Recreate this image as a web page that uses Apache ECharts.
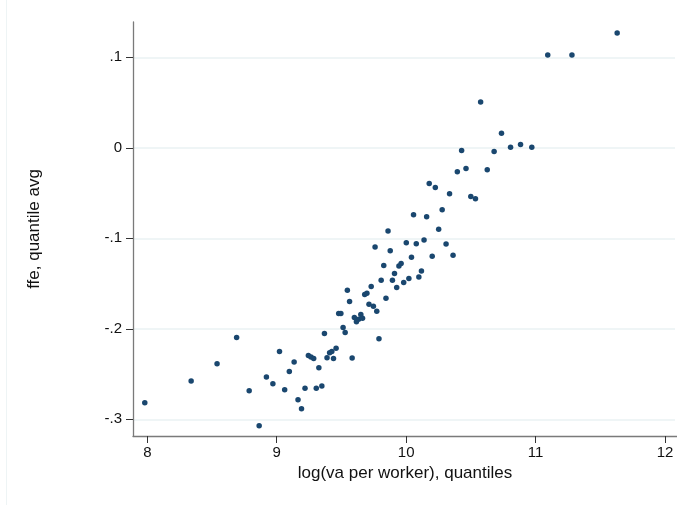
<!DOCTYPE html>
<html>
<head>
<meta charset="utf-8">
<script src="https://cdn.jsdelivr.net/npm/echarts@6/dist/echarts.min.js"></script>
<style>html,body{margin:0;padding:0;background:#fff}#c{width:677px;height:505px}</style>
</head>
<body>
<div id="c"></div>
<script>
var xValues = [7.983,8.341,8.541,8.692,8.789,8.866,8.922,8.972,9.023,9.063,9.099,9.136,9.166,9.193,9.220,9.246,9.266,9.287,9.307,9.327,9.350,9.370,9.390,9.410,9.427,9.440,9.460,9.480,9.497,9.514,9.530,9.547,9.564,9.584,9.601,9.617,9.634,9.651,9.664,9.681,9.698,9.714,9.731,9.748,9.761,9.774,9.791,9.808,9.828,9.845,9.861,9.878,9.895,9.911,9.928,9.945,9.962,9.982,10.002,10.022,10.042,10.058,10.079,10.099,10.119,10.139,10.159,10.179,10.202,10.226,10.252,10.279,10.309,10.336,10.363,10.396,10.429,10.463,10.500,10.536,10.576,10.627,10.680,10.737,10.807,10.884,10.971,11.094,11.281,11.630];
var yValues = [-0.2816,-0.2578,-0.2387,-0.2096,-0.2684,-0.3070,-0.2533,-0.2607,-0.2251,-0.2673,-0.2471,-0.2368,-0.2783,-0.2883,-0.2658,-0.2295,-0.2313,-0.2328,-0.2658,-0.2431,-0.2633,-0.2052,-0.2320,-0.2265,-0.2251,-0.2328,-0.2214,-0.1832,-0.1832,-0.1986,-0.2041,-0.1575,-0.1700,-0.2324,-0.1876,-0.1924,-0.1894,-0.1843,-0.1883,-0.1623,-0.1608,-0.1729,-0.1534,-0.1751,-0.1097,-0.1806,-0.2111,-0.1465,-0.1303,-0.1663,-0.0921,-0.1138,-0.1465,-0.1391,-0.1545,-0.1307,-0.1281,-0.1490,-0.1050,-0.1446,-0.1211,-0.0741,-0.1061,-0.1428,-0.1362,-0.1020,-0.0763,-0.0396,-0.1200,-0.0440,-0.0903,-0.0686,-0.1064,-0.0510,-0.1189,-0.0267,-0.0033,-0.0230,-0.0539,-0.0565,0.0504,-0.0245,-0.0044,0.0159,0.0004,0.0034,0.0004,0.1022,0.1022,0.1264];
var xTicks = [8, 9, 10, 11, 12];
var yTicks = [-0.3, -0.2, -0.1, 0, 0.1];
var yTickLabels = ['-.3', '-.2', '-.1', '0', '.1'];
var xTitle = 'log(va per worker), quantiles';
var yTitle = 'ffe, quantile avg';

var points = xValues.map(function (x, i) { return [x, yValues[i]]; });
var axisColor = '#7a7a7a';
var fontFamily = '"Liberation Sans", Arial, Helvetica, sans-serif';

var chart = echarts.init(document.getElementById('c'), null, {renderer: 'canvas'});
chart.setOption({
  animation: false,
  backgroundColor: '#ffffff',
  graphic: [{
    type: 'line', shape: {x1: 6.5, y1: 0, x2: 6.5, y2: 505},
    style: {stroke: '#eef4f5', lineWidth: 1}, silent: true
  }],
  grid: [
    {left: 133, right: 0, top: 22, bottom: 69},
    {left: 133, right: 2, top: 57.3, bottom: 85.7},
    {left: 147.3, right: 12, top: 22, bottom: 69}
  ],
  xAxis: [
    {gridIndex: 0, type: 'value', min: 7.892, max: 12.092,
      axisLine: {show: true, onZero: false, lineStyle: {color: axisColor, width: 1.3}},
      axisTick: {show: false}, axisLabel: {show: false}, splitLine: {show: false},
      name: xTitle, nameLocation: 'middle', nameGap: 29,
      nameTextStyle: {color: '#111', fontSize: 17, fontFamily: fontFamily}},
    {gridIndex: 1, type: 'value', min: 0, max: 1, show: false},
    {gridIndex: 2, type: 'value', min: xTicks[0], max: xTicks[xTicks.length - 1], interval: 1,
      axisLine: {show: false, onZero: false},
      axisTick: {show: true, length: 7, lineStyle: {color: '#333', width: 1}},
      axisLabel: {show: true, margin: 9, color: '#111', fontSize: 15, fontFamily: fontFamily},
      splitLine: {show: false}}
  ],
  yAxis: [
    {gridIndex: 0, type: 'value', min: -0.3184, max: 0.1386,
      axisLine: {show: true, onZero: false, lineStyle: {color: axisColor, width: 1.3}},
      axisTick: {show: false}, axisLabel: {show: false}, splitLine: {show: false},
      name: yTitle, nameLocation: 'middle', nameGap: 90, nameRotate: 90,
      nameTextStyle: {color: '#111', fontSize: 17, fontFamily: fontFamily}},
    {gridIndex: 1, type: 'value', min: yTicks[0], max: yTicks[yTicks.length - 1], interval: 0.1,
      axisLine: {show: false, onZero: false},
      axisTick: {show: true, length: 7, lineStyle: {color: '#333', width: 1}},
      axisLabel: {show: true, margin: 11, color: '#111', fontSize: 15, fontFamily: fontFamily,
        formatter: function (v) {
          var k = yTicks.findIndex(function (t) { return Math.abs(t - v) < 1e-6; });
          return k >= 0 ? yTickLabels[k] : '';
        }},
      splitLine: {show: true, lineStyle: {color: '#eaf2f3', width: 1.5}}},
    {gridIndex: 2, type: 'value', min: 0, max: 1, show: false}
  ],
  series: [{
    type: 'scatter', xAxisIndex: 0, yAxisIndex: 0,
    data: points, symbolSize: 5.5,
    itemStyle: {color: '#1a476f', opacity: 1},
    z: 5
  }]
});
</script>
</body>
</html>
